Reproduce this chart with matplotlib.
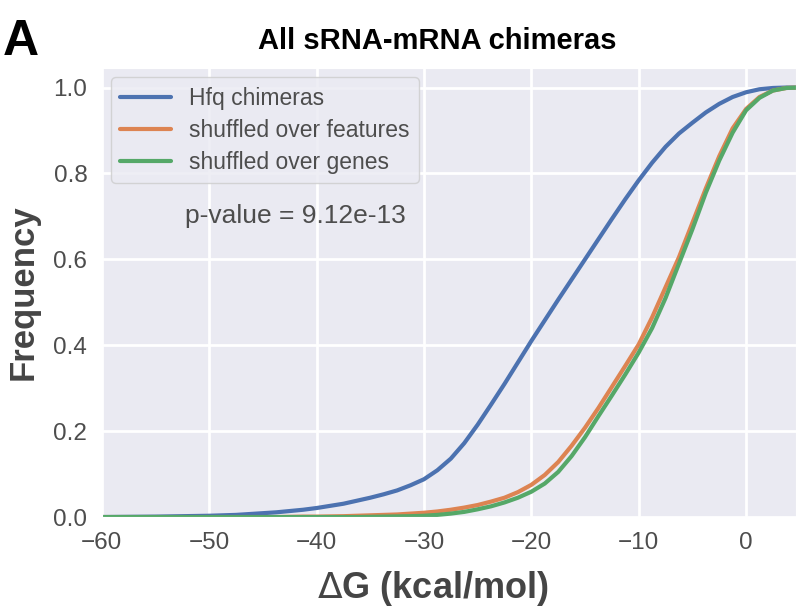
import matplotlib
matplotlib.use("Agg")
import matplotlib.pyplot as plt
import seaborn as sns

# values (cumulative frequency vs dG)
dg = [-60, -55, -50, -47.5,
      -45, -43.75, -42.5, -41.25, -40, -38.75, -37.5, -36.25, -35, -33.75, -32.5, -31.25,
      -30, -28.75, -27.5, -26.25, -25, -23.75, -22.5, -21.25, -20, -18.75, -17.5, -16.25,
      -15, -13.75, -12.5, -11.25, -10, -8.75, -7.5, -6.25, -5, -3.75, -2.5, -1.25,
      0, 1.25, 2.5, 3.75, 5]
hfq = [0.0, 0.001, 0.003, 0.005,
       0.009, 0.011, 0.014, 0.017, 0.021, 0.026, 0.031, 0.038, 0.045, 0.053, 0.062, 0.074,
       0.088, 0.109, 0.136, 0.172, 0.215, 0.262, 0.31, 0.36, 0.41, 0.458, 0.506, 0.553,
       0.6, 0.647, 0.694, 0.74, 0.784, 0.825, 0.862, 0.893, 0.918, 0.942, 0.962, 0.978,
       0.989, 0.996, 0.999, 1.0, 1.0]
features = [0.0, 0.0, 0.0, 0.0,
            0.0, 0.0, 0.0005, 0.001, 0.001, 0.0015, 0.002, 0.003, 0.004, 0.005, 0.006, 0.008,
            0.01, 0.013, 0.017, 0.022, 0.028, 0.036, 0.045, 0.058, 0.075, 0.098, 0.128, 0.166,
            0.208, 0.254, 0.303, 0.352, 0.402, 0.465, 0.535, 0.605, 0.685, 0.765, 0.84, 0.905,
            0.95, 0.978, 0.993, 0.999, 1.0]
genes = [0.0, 0.0, 0.0, 0.0,
         0.0, 0.0, 0.0, 0.0, 0.0, 0.0, 0.0, 0.0, 0.0005, 0.001, 0.0015, 0.002,
         0.003, 0.005, 0.008, 0.012, 0.018, 0.025, 0.034, 0.045, 0.059, 0.078, 0.105, 0.142,
         0.186, 0.235, 0.283, 0.332, 0.383, 0.44, 0.51, 0.59, 0.67, 0.755, 0.83, 0.895,
         0.947, 0.976, 0.993, 0.999, 1.0]
labels = ["Hfq chimeras", "shuffled over features", "shuffled over genes"]
pvalue_text = "p-value = 9.12e-13"

sns.set_style("darkgrid")
plt.rcParams['font.family'] = ['Liberation Sans', 'DejaVu Sans']

fig = plt.figure(figsize=(7.96, 6.09), dpi=100)
ax = fig.add_axes([0.128, 0.151, 0.872, 0.737])

colors = sns.color_palette("deep")
ax.plot(dg, hfq, color=colors[0], lw=3, label=labels[0])
ax.plot(dg, features, color=colors[1], lw=3, label=labels[1])
ax.plot(dg, genes, color=colors[2], lw=3, label=labels[2])

ax.set_xlim(-60, 4.65)
ax.set_ylim(0, 1.045)
ax.set_xticks([-60, -50, -40, -30, -20, -10, 0])
ax.set_yticks([0.0, 0.2, 0.4, 0.6, 0.8, 1.0])
ax.grid(True, color='white', lw=2)
ax.tick_params(axis='both', labelsize=17.5, labelcolor='0.3', pad=7)

ax.set_xlabel(r"$\Delta$G (kcal/mol)", fontsize=26, fontweight='bold', color='0.27',
              labelpad=11, x=0.477)
ax.set_ylabel("Frequency", fontsize=25, fontweight='bold', color='0.27', labelpad=10)
ax.set_title("All sRNA-mRNA chimeras", fontsize=21, fontweight='bold', color='black',
             pad=14, x=0.483)

leg = ax.legend(loc='upper left', fontsize=16.5, frameon=True, facecolor='#EAEAF2',
                edgecolor='0.8', borderaxespad=0.4, handlelength=2.2, labelspacing=0.4)
for t in leg.get_texts():
    t.set_color('0.3')

ax.text(-52.3, 0.70, pvalue_text, fontsize=19, color='0.3', ha='left', va='center')

fig.text(0.003, 0.91, "A", fontsize=36, fontweight='bold', color='black')

fig.savefig("out.png", dpi=100)
